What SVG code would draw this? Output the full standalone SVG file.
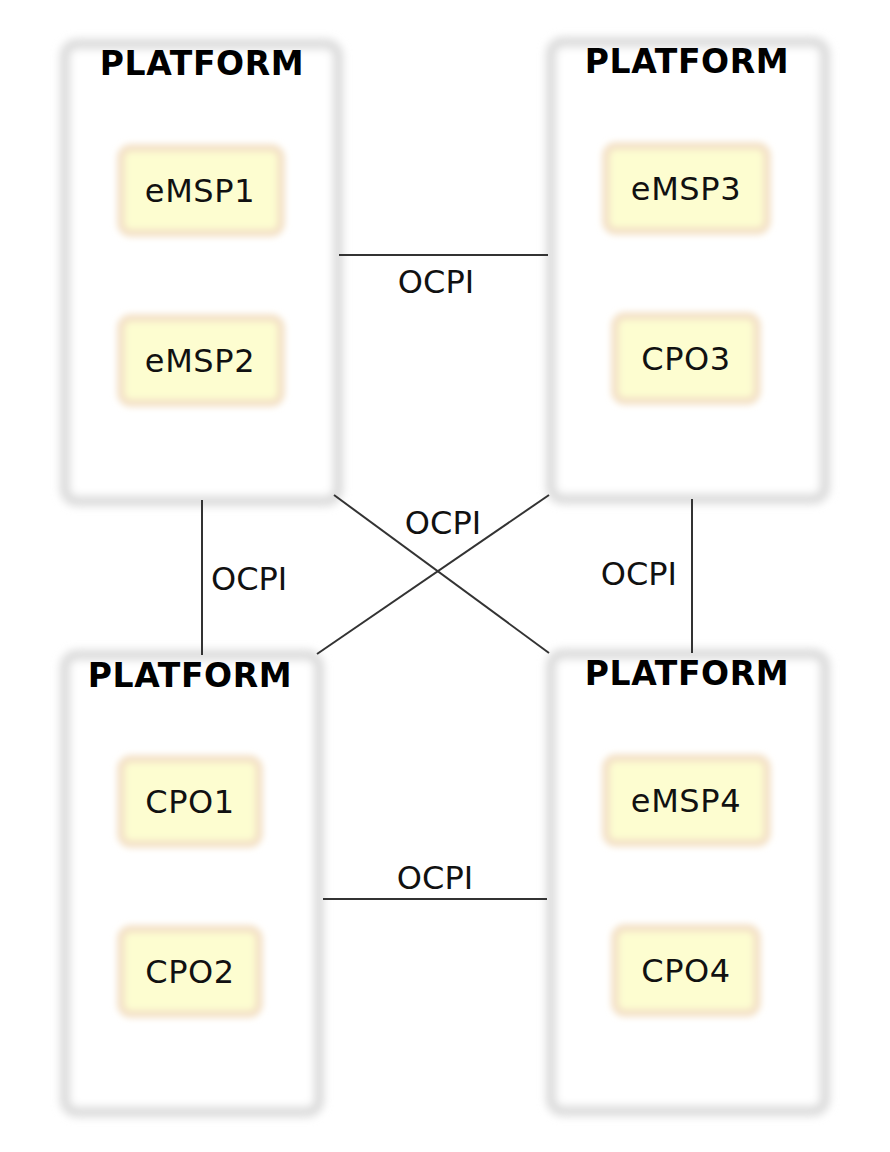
<svg xmlns="http://www.w3.org/2000/svg" width="890" height="1152" viewBox="0 0 890 1152">
  <defs>
    <filter id="blurP" x="-10%" y="-10%" width="120%" height="120%">
      <feGaussianBlur stdDeviation="4"/>
    </filter>
    <filter id="blurN" x="-15%" y="-20%" width="130%" height="140%">
      <feGaussianBlur stdDeviation="3"/>
    </filter>
  </defs>
  <style>
    .plat { fill: #ffffff; stroke: #dadada; stroke-width: 10; filter: url(#blurP); }
    .node { fill: #fdfdd0; stroke: #f4e2c8; stroke-width: 8; filter: url(#blurN); }
    .ptitle { font-family: "DejaVu Sans", sans-serif; font-weight: bold; font-size: 33px; letter-spacing: 0.6px; fill: #000; text-anchor: middle; }
    .nlabel { font-family: "DejaVu Sans", sans-serif; font-size: 32px; letter-spacing: 0.6px; fill: #111; text-anchor: middle; }
    .elabel { font-family: "DejaVu Sans", sans-serif; font-size: 32px; fill: #111; }
    .edge { stroke: #333; stroke-width: 2; fill: none; }
  </style>
  <rect width="890" height="1152" fill="#ffffff"/>

  <g id="platform1">
    <rect class="plat" x="65" y="44" width="273" height="457" rx="12"/>
    <text class="ptitle" x="202" y="75">PLATFORM</text>
  </g>
  <g id="platform2">
    <rect class="plat" x="551" y="42" width="274" height="457" rx="12"/>
    <text class="ptitle" x="687" y="73">PLATFORM</text>
  </g>
  <g id="platform3">
    <rect class="plat" x="65" y="655" width="254" height="457" rx="12"/>
    <text class="ptitle" x="190" y="687">PLATFORM</text>
  </g>
  <g id="platform4">
    <rect class="plat" x="551" y="654" width="274" height="457" rx="12"/>
    <text class="ptitle" x="687" y="685">PLATFORM</text>
  </g>

  <g id="eMSP1">
    <rect class="node" x="121" y="148" width="160" height="85" rx="10"/>
    <text class="nlabel" x="200" y="202">eMSP1</text>
  </g>
  <g id="eMSP2">
    <rect class="node" x="121" y="318" width="160" height="85" rx="10"/>
    <text class="nlabel" x="200" y="372">eMSP2</text>
  </g>
  <g id="eMSP3">
    <rect class="node" x="606" y="146" width="161" height="85" rx="10"/>
    <text class="nlabel" x="686" y="200">eMSP3</text>
  </g>
  <g id="CPO3">
    <rect class="node" x="615" y="316" width="142" height="85" rx="10"/>
    <text class="nlabel" x="686" y="370">CPO3</text>
  </g>
  <g id="CPO1">
    <rect class="node" x="121" y="759" width="138" height="85" rx="10"/>
    <text class="nlabel" x="190" y="813">CPO1</text>
  </g>
  <g id="CPO2">
    <rect class="node" x="121" y="929" width="138" height="85" rx="10"/>
    <text class="nlabel" x="190" y="983">CPO2</text>
  </g>
  <g id="eMSP4">
    <rect class="node" x="606" y="758" width="161" height="85" rx="10"/>
    <text class="nlabel" x="686" y="812">eMSP4</text>
  </g>
  <g id="CPO4">
    <rect class="node" x="615" y="928" width="142" height="85" rx="10"/>
    <text class="nlabel" x="686" y="982">CPO4</text>
  </g>

  <g id="connectors">
    <line class="edge" x1="339" y1="255" x2="548" y2="255"/>
    <line class="edge" x1="323" y1="899" x2="547" y2="899"/>
    <line class="edge" x1="202" y1="500" x2="202" y2="655"/>
    <line class="edge" x1="692" y1="499" x2="692" y2="653"/>
    <line class="edge" x1="334" y1="495" x2="549" y2="653"/>
    <line class="edge" x1="549" y1="495" x2="317" y2="654"/>
    <text class="elabel" x="436" y="293" text-anchor="middle">OCPI</text>
    <text class="elabel" x="435" y="889" text-anchor="middle">OCPI</text>
    <text class="elabel" x="211" y="590">OCPI</text>
    <text class="elabel" x="677" y="585" text-anchor="end">OCPI</text>
    <text class="elabel" x="443" y="534" text-anchor="middle">OCPI</text>
  </g>
</svg>
